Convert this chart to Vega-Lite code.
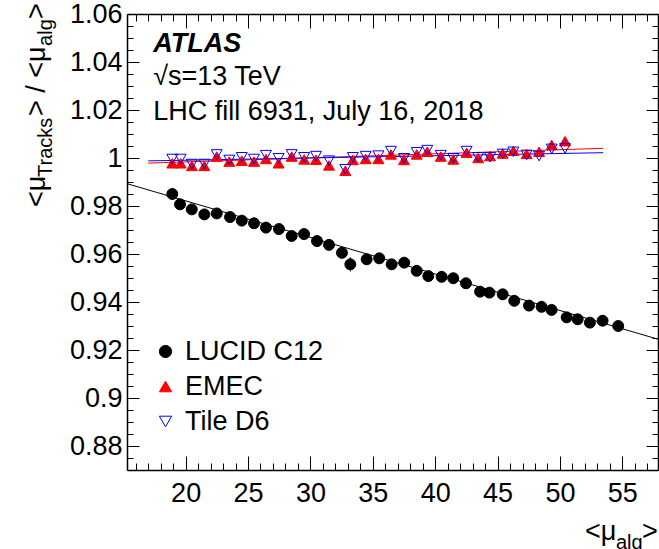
{
  "$schema": "https://vega.github.io/schema/vega-lite/v6.json",
  "width": 531,
  "height": 456,
  "autosize": {"type": "none"},
  "padding": {"left": 127, "top": 14, "right": 1, "bottom": 79},
  "background": "white",
  "config": {
    "font": "Liberation Sans",
    "view": {"stroke": null},
    "axis": {"grid": false, "domainColor": "black", "tickColor": "black", "labelColor": "black", "labelFont": "Liberation Sans", "labelFontSize": 27, "tickWidth": 1, "domainWidth": 1.5}
  },
  "datasets": {
    "pts": [
      {"series": "LUCID C12", "x": 18.93, "y": 0.985, "lo": 0.9825, "hi": 0.9875},
      {"series": "LUCID C12", "x": 19.55, "y": 0.9807, "lo": 0.9795, "hi": 0.9819},
      {"series": "LUCID C12", "x": 20.49, "y": 0.9786, "lo": 0.9774, "hi": 0.9798},
      {"series": "LUCID C12", "x": 21.5, "y": 0.9765, "lo": 0.9753, "hi": 0.9777},
      {"series": "LUCID C12", "x": 22.49, "y": 0.9769, "lo": 0.9757, "hi": 0.9781},
      {"series": "LUCID C12", "x": 23.56, "y": 0.9754, "lo": 0.9742, "hi": 0.9766},
      {"series": "LUCID C12", "x": 24.5, "y": 0.9739, "lo": 0.9727, "hi": 0.9751},
      {"series": "LUCID C12", "x": 25.48, "y": 0.9728, "lo": 0.9716, "hi": 0.974},
      {"series": "LUCID C12", "x": 26.44, "y": 0.971, "lo": 0.9698, "hi": 0.9722},
      {"series": "LUCID C12", "x": 27.48, "y": 0.9704, "lo": 0.9692, "hi": 0.9716},
      {"series": "LUCID C12", "x": 28.5, "y": 0.9675, "lo": 0.9663, "hi": 0.9687},
      {"series": "LUCID C12", "x": 29.49, "y": 0.9683, "lo": 0.9671, "hi": 0.9695},
      {"series": "LUCID C12", "x": 30.53, "y": 0.9654, "lo": 0.9642, "hi": 0.9666},
      {"series": "LUCID C12", "x": 31.49, "y": 0.9638, "lo": 0.9626, "hi": 0.965},
      {"series": "LUCID C12", "x": 32.53, "y": 0.9605, "lo": 0.9593, "hi": 0.9617},
      {"series": "LUCID C12", "x": 33.2, "y": 0.9557, "lo": 0.9527, "hi": 0.9587},
      {"series": "LUCID C12", "x": 34.51, "y": 0.9578, "lo": 0.9566, "hi": 0.959},
      {"series": "LUCID C12", "x": 35.52, "y": 0.9582, "lo": 0.957, "hi": 0.9594},
      {"series": "LUCID C12", "x": 36.51, "y": 0.9557, "lo": 0.9545, "hi": 0.9569},
      {"series": "LUCID C12", "x": 37.52, "y": 0.9564, "lo": 0.9552, "hi": 0.9576},
      {"series": "LUCID C12", "x": 38.52, "y": 0.953, "lo": 0.9518, "hi": 0.9542},
      {"series": "LUCID C12", "x": 39.45, "y": 0.9508, "lo": 0.9496, "hi": 0.952},
      {"series": "LUCID C12", "x": 40.52, "y": 0.9505, "lo": 0.9493, "hi": 0.9517},
      {"series": "LUCID C12", "x": 41.45, "y": 0.9499, "lo": 0.9487, "hi": 0.9511},
      {"series": "LUCID C12", "x": 42.47, "y": 0.9478, "lo": 0.9466, "hi": 0.949},
      {"series": "LUCID C12", "x": 43.6, "y": 0.9443, "lo": 0.9431, "hi": 0.9455},
      {"series": "LUCID C12", "x": 44.35, "y": 0.9439, "lo": 0.9427, "hi": 0.9451},
      {"series": "LUCID C12", "x": 45.41, "y": 0.9432, "lo": 0.942, "hi": 0.9444},
      {"series": "LUCID C12", "x": 46.34, "y": 0.9405, "lo": 0.9393, "hi": 0.9417},
      {"series": "LUCID C12", "x": 47.52, "y": 0.9385, "lo": 0.9373, "hi": 0.9397},
      {"series": "LUCID C12", "x": 48.53, "y": 0.938, "lo": 0.9368, "hi": 0.9392},
      {"series": "LUCID C12", "x": 49.33, "y": 0.9367, "lo": 0.9355, "hi": 0.9379},
      {"series": "LUCID C12", "x": 50.54, "y": 0.9336, "lo": 0.9324, "hi": 0.9348},
      {"series": "LUCID C12", "x": 51.42, "y": 0.9328, "lo": 0.9316, "hi": 0.934},
      {"series": "LUCID C12", "x": 52.4, "y": 0.9314, "lo": 0.9302, "hi": 0.9326},
      {"series": "LUCID C12", "x": 53.42, "y": 0.9322, "lo": 0.931, "hi": 0.9334},
      {"series": "LUCID C12", "x": 54.67, "y": 0.93, "lo": 0.9288, "hi": 0.9312},
      {"series": "EMEC", "x": 18.93, "y": 0.9978},
      {"series": "EMEC", "x": 19.6, "y": 0.9978},
      {"series": "EMEC", "x": 20.5, "y": 0.9967},
      {"series": "EMEC", "x": 21.5, "y": 0.9967},
      {"series": "EMEC", "x": 22.49, "y": 1.0006},
      {"series": "EMEC", "x": 23.5, "y": 0.9985},
      {"series": "EMEC", "x": 24.5, "y": 0.9989},
      {"series": "EMEC", "x": 25.48, "y": 0.9985},
      {"series": "EMEC", "x": 26.44, "y": 0.9996},
      {"series": "EMEC", "x": 27.45, "y": 0.9978},
      {"series": "EMEC", "x": 28.5, "y": 1.0006},
      {"series": "EMEC", "x": 29.5, "y": 0.9994},
      {"series": "EMEC", "x": 30.45, "y": 0.9993},
      {"series": "EMEC", "x": 31.49, "y": 0.9969},
      {"series": "EMEC", "x": 32.8, "y": 0.9947},
      {"series": "EMEC", "x": 33.4, "y": 0.9992},
      {"series": "EMEC", "x": 34.43, "y": 0.9996},
      {"series": "EMEC", "x": 35.45, "y": 0.9996},
      {"series": "EMEC", "x": 36.46, "y": 1.0015},
      {"series": "EMEC", "x": 37.5, "y": 0.9992},
      {"series": "EMEC", "x": 38.52, "y": 1.0015},
      {"series": "EMEC", "x": 39.37, "y": 1.0026},
      {"series": "EMEC", "x": 40.45, "y": 1.0006},
      {"series": "EMEC", "x": 41.45, "y": 0.9994},
      {"series": "EMEC", "x": 42.52, "y": 1.0022},
      {"series": "EMEC", "x": 43.45, "y": 1.0},
      {"series": "EMEC", "x": 44.4, "y": 1.0008},
      {"series": "EMEC", "x": 45.41, "y": 1.0019},
      {"series": "EMEC", "x": 46.27, "y": 1.003},
      {"series": "EMEC", "x": 47.33, "y": 1.0017},
      {"series": "EMEC", "x": 48.33, "y": 1.0026},
      {"series": "EMEC", "x": 49.34, "y": 1.0054},
      {"series": "EMEC", "x": 50.41, "y": 1.007},
      {"series": "Tile D6", "x": 18.93, "y": 0.9996},
      {"series": "Tile D6", "x": 19.6, "y": 0.9996},
      {"series": "Tile D6", "x": 20.5, "y": 0.9975},
      {"series": "Tile D6", "x": 21.5, "y": 0.9975},
      {"series": "Tile D6", "x": 22.49, "y": 1.0015},
      {"series": "Tile D6", "x": 23.5, "y": 0.9992},
      {"series": "Tile D6", "x": 24.5, "y": 1.0003},
      {"series": "Tile D6", "x": 25.48, "y": 0.9996},
      {"series": "Tile D6", "x": 26.44, "y": 1.0012},
      {"series": "Tile D6", "x": 27.45, "y": 0.9999},
      {"series": "Tile D6", "x": 28.5, "y": 1.0015},
      {"series": "Tile D6", "x": 29.5, "y": 1.0003},
      {"series": "Tile D6", "x": 30.45, "y": 1.0008},
      {"series": "Tile D6", "x": 31.49, "y": 0.9989},
      {"series": "Tile D6", "x": 32.8, "y": 0.9953},
      {"series": "Tile D6", "x": 33.4, "y": 1.0003},
      {"series": "Tile D6", "x": 34.43, "y": 1.0008},
      {"series": "Tile D6", "x": 35.45, "y": 1.001},
      {"series": "Tile D6", "x": 36.46, "y": 1.0029},
      {"series": "Tile D6", "x": 37.5, "y": 0.9999},
      {"series": "Tile D6", "x": 38.52, "y": 1.0024},
      {"series": "Tile D6", "x": 39.37, "y": 1.0033},
      {"series": "Tile D6", "x": 40.45, "y": 1.0012},
      {"series": "Tile D6", "x": 41.45, "y": 0.9999},
      {"series": "Tile D6", "x": 42.52, "y": 1.0029},
      {"series": "Tile D6", "x": 43.45, "y": 1.0003},
      {"series": "Tile D6", "x": 44.4, "y": 1.0003},
      {"series": "Tile D6", "x": 45.41, "y": 1.0017},
      {"series": "Tile D6", "x": 46.27, "y": 1.0026},
      {"series": "Tile D6", "x": 47.33, "y": 1.0013},
      {"series": "Tile D6", "x": 48.33, "y": 1.0008},
      {"series": "Tile D6", "x": 49.34, "y": 1.0038},
      {"series": "Tile D6", "x": 50.41, "y": 1.004}
    ],
    "fits": [
      {"fit": "LUCID fit", "x": 15.3, "y": 0.9893},
      {"fit": "LUCID fit", "x": 57.86, "y": 0.9245},
      {"fit": "EMEC fit", "x": 17.0, "y": 0.99786},
      {"fit": "EMEC fit", "x": 53.47, "y": 1.00404},
      {"fit": "Tile fit", "x": 17.0, "y": 0.99879},
      {"fit": "Tile fit", "x": 53.47, "y": 1.00221}
    ],
    "atlas": [{"t": "ATLAS", "x": 17.4, "y": 1.0442}],
    "info": [
      {"t": "√s=13 TeV", "x": 17.4, "y": 1.0304},
      {"t": "LHC fill 6931, July 16, 2018", "x": 17.4, "y": 1.016}
    ],
    "xtmain": [
      {"t": "<μ", "x": 52.0, "y": 0.8408},
      {"t": ">", "x": 56.57, "y": 0.8408}
    ],
    "xtsub": [{"t": "alg", "x": 54.49, "y": 0.8371}],
    "ytmain": [
      {"t": "<μ", "x": 8.73, "y": 0.97958},
      {"t": "> / <μ", "x": 8.73, "y": 1.0175},
      {"t": ">", "x": 8.73, "y": 1.0579}
    ],
    "ytsub": [
      {"t": "Tracks", "x": 9.29, "y": 0.99208},
      {"t": "alg", "x": 9.29, "y": 1.0467}
    ]
  },
  "layer": [
    {
      "data": {"name": "fits"},
      "mark": {"type": "line", "strokeWidth": 1},
      "encoding": {
        "x": {"field": "x", "type": "quantitative", "scale": {"domain": [15.3, 57.86], "nice": false, "zero": false},
          "axis": {"orient": "bottom", "values": [20, 25, 30, 35, 40, 45, 50, 55], "labels": false, "domain": false, "tickSize": -14, "title": null}},
        "y": {"field": "y", "type": "quantitative", "scale": {"domain": [0.87, 1.06], "nice": false, "zero": false},
          "axis": {"orient": "left", "values": [0.88, 0.9, 0.92, 0.94, 0.96, 0.98, 1, 1.02, 1.04, 1.06], "labels": false, "domain": false, "tickSize": -12, "title": null}},
        "color": {"field": "fit", "type": "nominal", "scale": {"domain": ["LUCID fit", "EMEC fit", "Tile fit"], "range": ["black", "red", "blue"]}, "legend": null},
        "detail": {"field": "fit"}
      }
    },
    {
      "data": {"name": "pts"},
      "transform": [{"filter": "datum.series === 'LUCID C12'"}],
      "mark": {"type": "rule", "color": "black", "strokeWidth": 1},
      "encoding": {
        "x": {"field": "x", "type": "quantitative", "scale": {"domain": [15.3, 57.86], "nice": false, "zero": false},
          "axis": {"orient": "bottom", "values": [20, 25, 30, 35, 40, 45, 50, 55], "ticks": false, "domain": true, "labelPadding": 10, "labelFlush": false, "labelOverlap": false, "title": null}},
        "y": {"field": "lo", "type": "quantitative", "scale": {"domain": [0.87, 1.06], "nice": false, "zero": false},
          "axis": {"orient": "left", "values": [0.88, 0.9, 0.92, 0.94, 0.96, 0.98, 1, 1.02, 1.04, 1.06], "format": "~g", "ticks": false, "domain": true, "labelPadding": 5, "labelFlush": false, "labelOverlap": false, "title": null}},
        "y2": {"field": "hi"}
      }
    },
    {
      "data": {"name": "pts"},
      "mark": {"type": "point", "opacity": 1, "strokeWidth": 1, "size": 120},
      "encoding": {
        "x": {"field": "x", "type": "quantitative", "scale": {"domain": [15.3, 57.86], "nice": false, "zero": false},
          "axis": {"orient": "bottom", "values": [16, 17, 18, 19, 20, 21, 22, 23, 24, 25, 26, 27, 28, 29, 30, 31, 32, 33, 34, 35, 36, 37, 38, 39, 40, 41, 42, 43, 44, 45, 46, 47, 48, 49, 50, 51, 52, 53, 54, 55, 56, 57], "labels": false, "domain": false, "tickSize": -7, "title": null}},
        "y": {"field": "y", "type": "quantitative", "scale": {"domain": [0.87, 1.06], "nice": false, "zero": false},
          "axis": {"orient": "left", "values": [0.87, 0.875, 0.88, 0.885, 0.89, 0.895, 0.9, 0.905, 0.91, 0.915, 0.92, 0.925, 0.93, 0.935, 0.94, 0.945, 0.95, 0.955, 0.96, 0.965, 0.97, 0.975, 0.98, 0.985, 0.99, 0.995, 1, 1.005, 1.01, 1.015, 1.02, 1.025, 1.03, 1.035, 1.04, 1.045, 1.05, 1.055, 1.06], "labels": false, "domain": false, "tickSize": -6, "title": null}},
        "shape": {"field": "series", "type": "nominal", "scale": {"domain": ["LUCID C12", "EMEC", "Tile D6"], "range": ["circle", "triangle-up", "triangle-down"]},
          "legend": {"title": null, "orient": "none", "legendX": 25, "legendY": 324, "padding": 0, "labelFontSize": 27, "labelFont": "Liberation Sans", "labelColor": "black", "symbolSize": 150, "symbolStrokeWidth": 1, "symbolOpacity": 1, "rowPadding": 7, "labelOffset": 6}},
        "fill": {"field": "series", "type": "nominal", "scale": {"domain": ["LUCID C12", "EMEC", "Tile D6"], "range": ["black", "red", "transparent"]}},
        "stroke": {"field": "series", "type": "nominal", "scale": {"domain": ["LUCID C12", "EMEC", "Tile D6"], "range": ["black", "red", "blue"]}}
      }
    },
    {
      "data": {"name": "atlas"},
      "mark": {"type": "text", "align": "left", "baseline": "alphabetic", "fontSize": 27, "fontWeight": "bold", "fontStyle": "italic", "color": "black"},
      "encoding": {
        "x": {"field": "x", "type": "quantitative", "scale": {"domain": [15.3, 57.86], "nice": false, "zero": false},
          "axis": {"orient": "top", "values": [20, 25, 30, 35, 40, 45, 50, 55], "labels": false, "domain": true, "tickSize": -14, "title": null}},
        "y": {"field": "y", "type": "quantitative", "scale": {"domain": [0.87, 1.06], "nice": false, "zero": false},
          "axis": {"orient": "right", "values": [0.88, 0.9, 0.92, 0.94, 0.96, 0.98, 1, 1.02, 1.04, 1.06], "labels": false, "domain": true, "tickSize": -12, "title": null}},
        "text": {"field": "t"}
      }
    },
    {
      "data": {"name": "info"},
      "mark": {"type": "text", "align": "left", "baseline": "alphabetic", "fontSize": 27, "color": "black"},
      "encoding": {
        "x": {"field": "x", "type": "quantitative", "scale": {"domain": [15.3, 57.86], "nice": false, "zero": false},
          "axis": {"orient": "top", "values": [16, 17, 18, 19, 20, 21, 22, 23, 24, 25, 26, 27, 28, 29, 30, 31, 32, 33, 34, 35, 36, 37, 38, 39, 40, 41, 42, 43, 44, 45, 46, 47, 48, 49, 50, 51, 52, 53, 54, 55, 56, 57], "labels": false, "domain": false, "tickSize": -7, "title": null}},
        "y": {"field": "y", "type": "quantitative", "scale": {"domain": [0.87, 1.06], "nice": false, "zero": false},
          "axis": {"orient": "right", "values": [0.87, 0.875, 0.88, 0.885, 0.89, 0.895, 0.9, 0.905, 0.91, 0.915, 0.92, 0.925, 0.93, 0.935, 0.94, 0.945, 0.95, 0.955, 0.96, 0.965, 0.97, 0.975, 0.98, 0.985, 0.99, 0.995, 1, 1.005, 1.01, 1.015, 1.02, 1.025, 1.03, 1.035, 1.04, 1.045, 1.05, 1.055, 1.06], "labels": false, "domain": false, "tickSize": -6, "title": null}},
        "text": {"field": "t"}
      }
    },
    {
      "data": {"name": "xtmain"},
      "mark": {"type": "text", "align": "left", "baseline": "alphabetic", "fontSize": 27, "color": "black"},
      "encoding": {
        "x": {"field": "x", "type": "quantitative", "scale": {"domain": [15.3, 57.86], "nice": false, "zero": false}, "axis": null},
        "y": {"field": "y", "type": "quantitative", "scale": {"domain": [0.87, 1.06], "nice": false, "zero": false}, "axis": null},
        "text": {"field": "t"}
      }
    },
    {
      "data": {"name": "xtsub"},
      "mark": {"type": "text", "align": "left", "baseline": "alphabetic", "fontSize": 20, "color": "black"},
      "encoding": {
        "x": {"field": "x", "type": "quantitative", "scale": {"domain": [15.3, 57.86], "nice": false, "zero": false}, "axis": null},
        "y": {"field": "y", "type": "quantitative", "scale": {"domain": [0.87, 1.06], "nice": false, "zero": false}, "axis": null},
        "text": {"field": "t"}
      }
    },
    {
      "data": {"name": "ytmain"},
      "mark": {"type": "text", "align": "left", "baseline": "alphabetic", "fontSize": 27, "angle": 270, "color": "black"},
      "encoding": {
        "x": {"field": "x", "type": "quantitative", "scale": {"domain": [15.3, 57.86], "nice": false, "zero": false}, "axis": null},
        "y": {"field": "y", "type": "quantitative", "scale": {"domain": [0.87, 1.06], "nice": false, "zero": false}, "axis": null},
        "text": {"field": "t"}
      }
    },
    {
      "data": {"name": "ytsub"},
      "mark": {"type": "text", "align": "left", "baseline": "alphabetic", "fontSize": 20, "angle": 270, "color": "black"},
      "encoding": {
        "x": {"field": "x", "type": "quantitative", "scale": {"domain": [15.3, 57.86], "nice": false, "zero": false}, "axis": null},
        "y": {"field": "y", "type": "quantitative", "scale": {"domain": [0.87, 1.06], "nice": false, "zero": false}, "axis": null},
        "text": {"field": "t"}
      }
    }
  ],
  "resolve": {"axis": {"x": "independent", "y": "independent"}}
}
